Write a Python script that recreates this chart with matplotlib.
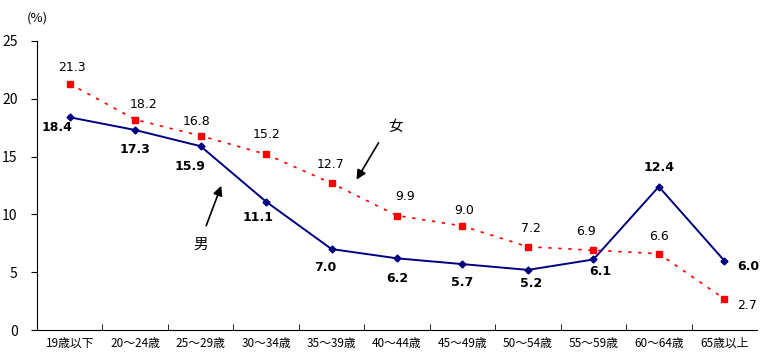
import matplotlib.pyplot as plt
import numpy as np

plt.rcParams['font.family'] = ['Noto Sans CJK JP', 'DejaVu Sans']

categories = ['19歳以下', '20～24歳', '25～29歳', '30～34歳', '35～39歳', '40～44歳',
              '45～49歳', '50～54歳', '55～59歳', '60～64歳', '65歳以上']
male = [18.4, 17.3, 15.9, 11.1, 7.0, 6.2, 5.7, 5.2, 6.1, 12.4, 6.0]
female = [21.3, 18.2, 16.8, 15.2, 12.7, 9.9, 9.0, 7.2, 6.9, 6.6, 2.7]

# label offsets in pixels (dx, dy)
male_off = [(-13, -10), (0, -19), (-11, -20), (-8, -16), (-6, -18), (0, -20),
            (0, -18), (3, -14), (7, -12), (0, 19), (24, -6)]
female_off = [(2, 16), (8, 15), (-4, 14), (0, 20), (-1, 19), (8, 19),
              (2, 15), (3, 18), (-7, 19), (0, 17), (23, -7)]

fig = plt.figure(figsize=(7.62, 3.55), dpi=100)
ax = fig.add_axes([37 / 762, 25 / 355, 720 / 762, 289 / 355])

x = np.arange(len(categories))
ax.plot(x, female, color='#ff0000', linestyle=(0, (2, 4)), lw=1.2,
        marker='s', markersize=5, zorder=2)
ax.plot(x, male, color='#000080', linestyle='-', lw=1.4,
        marker='D', markersize=3.5, zorder=3)

for i, v in enumerate(male):
    ax.annotate(f'{v:.1f}', (i, v), xytext=male_off[i], textcoords='offset pixels',
                ha='center', va='center', fontsize=9, fontweight='bold',
                family=['DejaVu Sans'])
for i, v in enumerate(female):
    ax.annotate(f'{v:.1f}', (i, v), xytext=female_off[i], textcoords='offset pixels',
                ha='center', va='center', fontsize=9, family=['DejaVu Sans'])

ax.set_xlim(-0.5, len(categories) - 0.5)
ax.set_ylim(0, 25)
ax.set_yticks(range(0, 26, 5))
ax.set_xticks(x)
ax.set_xticklabels(categories, fontsize=8.5)
ax.set_xticks(np.arange(0.5, len(categories) - 0.5, 1), minor=True)
ax.tick_params(axis='x', which='major', length=0, pad=5)
ax.tick_params(axis='x', which='minor', direction='in', length=4)
ax.tick_params(axis='y', direction='out', length=4, labelsize=10, pad=10)

for s in ['top', 'right']:
    ax.spines[s].set_visible(False)

ax.text(-0.5, 27.0, '(%)', fontsize=9.5, ha='center', va='center', clip_on=False)

# annotations with arrows
ax.annotate('', xy=(4.36, 12.8), xytext=(4.74, 16.4),
            arrowprops=dict(arrowstyle='-|>', color='black', lw=1.2, mutation_scale=14))
ax.text(4.98, 17.6, '女', fontsize=10.5, ha='center', va='center')
ax.annotate('', xy=(2.33, 12.7), xytext=(2.07, 8.8),
            arrowprops=dict(arrowstyle='-|>', color='black', lw=1.2, mutation_scale=14))
ax.text(2.0, 7.4, '男', fontsize=10.5, ha='center', va='center')

fig.savefig('out.png', dpi=100)
